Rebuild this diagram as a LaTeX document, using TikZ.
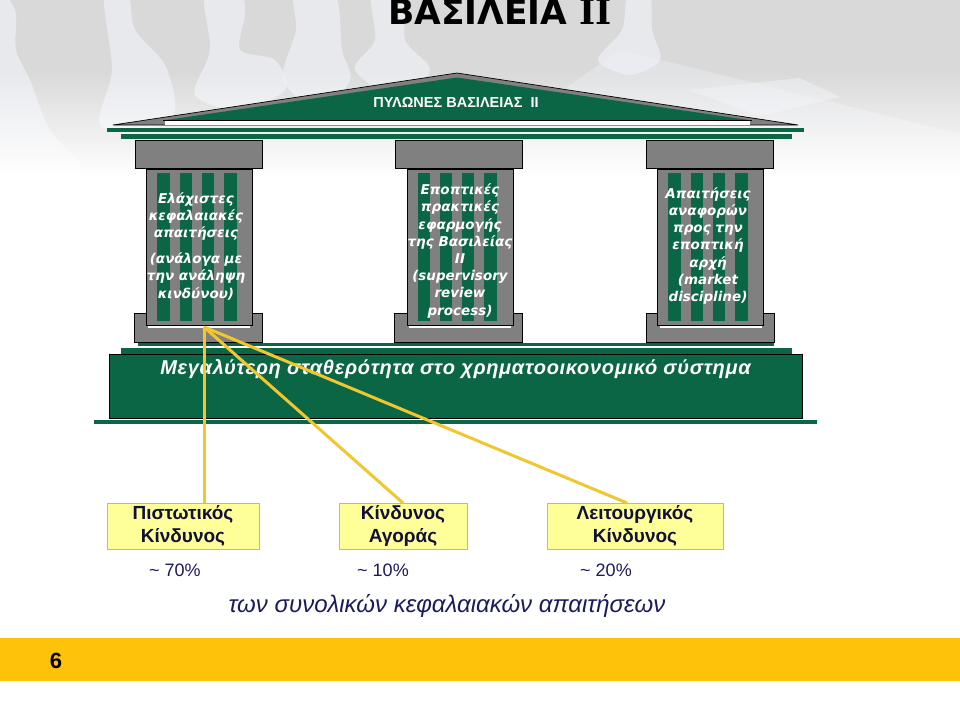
\documentclass[tikz,border=0pt]{standalone}
\usepackage{fontspec}
\usetikzlibrary{fadings}
\setmainfont{Liberation Sans}
\newfontfamily\pillarfont{DejaVu Sans}
\newfontfamily\slabfont{DejaVu Serif}
\definecolor{templegreen}{HTML}{0B6645}
\definecolor{stonegray}{HTML}{808080}
\definecolor{riskyellow}{HTML}{FFFF99}
\definecolor{riskborder}{HTML}{A9BFA9}
\definecolor{linkyellow}{HTML}{F2C62E}
\definecolor{bandyellow}{HTML}{FFC20A}
\definecolor{navytext}{HTML}{1A1A5E}
\definecolor{piececolor}{HTML}{EEF1F6}
\tikzset{
	block/.style={draw=black,line width=0.8pt,fill=stonegray,inner sep=0,outer sep=0},
	capital/.style={block,minimum width=127,minimum height=28},
	shaft/.style={block,minimum width=106,minimum height=156},
	base/.style={block,minimum width=128,minimum height=29},
	flute/.style={fill=templegreen,inner sep=0,outer sep=0,minimum width=12.5,minimum height=148},
	slab/.style={fill=templegreen,inner sep=0,outer sep=0},
	pillartext/.style={text=white,align=center,inner sep=0,font=\pillarfont\bfseries\itshape\fontsize{13.5}{17.2}\selectfont},
	riskbox/.style={draw=riskborder,fill=riskyellow,inner sep=0,outer sep=0,minimum height=46,align=center,text=navytext!60!black,font=\bfseries\fontsize{19}{23}\selectfont},
	share/.style={text=navytext,inner sep=0,font=\fontsize{18}{20}\selectfont},
	link/.style={draw=linkyellow,line width=3pt},
	piece/.style={fill=piececolor,opacity=0.7}
}
\begin{document}
\begin{tikzpicture}[x=1pt,y=-1pt]
	\useasboundingbox (0,0) rectangle (960,720);
	\fill[black!15] (0,0) rectangle (960,260);
	\fill[piece] plot[smooth cycle,tension=0.5] coordinates {(-5,5) (15,10) (16,50) (30,80) (50,130) (90,180) (70,230) (-5,230)};
	\fill[piece] plot[smooth cycle,tension=0.5] coordinates {(104,-5) (128,-5) (135,30) (165,65) (175,110) (150,130) (100,125) (112,70)};
	\fill[piece] plot[smooth cycle,tension=0.5] coordinates {(205,-5) (240,-5) (245,15) (240,50) (275,60) (285,90) (240,110) (195,95) (210,50)};
	\fill[piece] plot[smooth cycle,tension=0.5] coordinates {(295,-5) (335,-5) (342,50) (350,80) (320,110) (283,80) (296,30)};
	\fill[piece] plot[smooth cycle,tension=0.5] coordinates {(372,-5) (405,-5) (405,40) (430,70) (400,100) (355,70) (375,40)};
	\fill[piece] plot[smooth cycle,tension=0.5] coordinates {(628,-5) (650,-5) (652,30) (660,60) (630,75) (598,60) (622,30)};
	\fill[piece,opacity=0.4] (620,50) -- (965,135) -- (965,260) -- (520,260) -- (520,120) -- cycle;
	\fill[piece,opacity=0.5] (688,90) -- (800,78) -- (840,97) -- (760,116) -- cycle;
	\fill[white,path fading=north] (-1,70) rectangle (961,176);
	\fill[white] (-1,175) rectangle (961,262);
	\node[slab,minimum width=960,minimum height=43] (band) at (480,659.5) [fill=bandyellow] {};
	\node[inner sep=0,font=\bfseries\fontsize{22}{24}\selectfont] (page) at (56,661) {6};
	\node[inner sep=0,font=\pillarfont\bfseries\fontsize{34.5}{40}\selectfont] (title) at (500,12) {ΒΑΣΙΛΕΙΑ {\slabfont II}};
	\draw[draw=black,line width=0.7pt,fill=stonegray] (113,125) -- (457,73) -- (798,125) -- cycle;
	\fill[templegreen] (163,120.5) -- (457,77.5) -- (752,120.5) -- cycle;
	\draw[black,line width=0.8pt] (163,120.5) -- (752,120.5);
	\fill[white] (165,121) rectangle (750,124.5);
	\node[inner sep=0,text=white,font=\bfseries\fontsize{14.5}{16}\selectfont] (roof) at (456,102) {ΠΥΛΩΝΕΣ ΒΑΣΙΛΕΙΑΣ\ \ ΙΙ};
	\node[slab,minimum width=697,minimum height=4] (lintel1) at (455.5,129.5) {};
	\node[slab,minimum width=671,minimum height=5] (lintel2) at (456.5,136.5) {};
	\node[capital] (cap1) at (198.5,154) {};
	\node[capital] (cap2) at (458.5,154) {};
	\node[capital] (cap3) at (710,154) {};
	\node[slab,minimum width=636,minimum height=3.5] (step1) at (456,344.5) {};
	\node[base] (base1) at (198.5,327.5) {};
	\node[base] (base2) at (458.5,327.5) {};
	\node[base] (base3) at (710,327.5) {};
	\fill[white] (148,325) rectangle (250,328);
	\fill[white] (409,325) rectangle (511,328);
	\fill[white] (660,325) rectangle (762,328);
	\node[shaft] (shaft1) at (199,247) {};
	\node[shaft] (shaft2) at (460,247) {};
	\node[shaft] (shaft3) at (710.5,247) {};
	\node[flute] (f11) at (163.5,247) {};
	\node[flute] (f12) at (186,247) {};
	\node[flute] (f13) at (208,247) {};
	\node[flute] (f14) at (230.5,247) {};
	\node[flute] (f21) at (424,247) {};
	\node[flute] (f22) at (446,247) {};
	\node[flute] (f23) at (468,247) {};
	\node[flute] (f24) at (490.5,247) {};
	\node[flute] (f31) at (674.5,247) {};
	\node[flute] (f32) at (697,247) {};
	\node[flute] (f33) at (719,247) {};
	\node[flute] (f34) at (741.5,247) {};
	\node[pillartext] (txt1) at (196,246) {Ελάχιστες\\κεφαλαιακές\\απαιτήσεις\\[9pt](ανάλογα με\\την ανάληψη\\κινδύνου)};
	\node[pillartext] (txt2) at (460,251) {Εποπτικές\\πρακτικές\\εφαρμογής\\της Βασιλείας\\ΙΙ\\(supervisory\\review\\process)};
	\node[pillartext] (txt3) at (708,246) {Απαιτήσεις\\αναφορών\\προς την\\εποπτική\\αρχή\\(market\\discipline)};
	\node[slab,minimum width=671,minimum height=6] (step2) at (456.5,351) {};
	\node[slab,draw=black,line width=0.8pt,minimum width=693,minimum height=64] (floor) at (455.5,386) {};
	\node[slab,minimum width=723,minimum height=4] (step3) at (455.5,422) {};
	\node[inner sep=0,text=white,font=\bfseries\itshape\fontsize{20}{22}\selectfont\addfontfeatures{LetterSpace=3.4}] (motto) at (455.5,369) {Μεγαλύτερη σταθερότητα στο χρηματοοικονομικό σύστημα};
	\node[riskbox,minimum width=152] (credit) at (183,526) {Πιστωτικός\\Κίνδυνος};
	\node[riskbox,minimum width=128] (market) at (403,526) {Κίνδυνος\\Αγοράς};
	\node[riskbox,minimum width=176] (oper) at (635,526) {Λειτουργικός\\Κίνδυνος};
	\coordinate (hub) at (204,327);
	\coordinate (operin) at (627,503);
	\draw[link] (hub) -- (hub |- credit.north);
	\draw[link] (hub) -- (market.north);
	\draw[link] (hub) -- (operin);
	\node[share] (s1) at (175,570) {\textasciitilde\ 70\%};
	\node[share] (s2) at (383,570) {\textasciitilde\ 10\%};
	\node[share] (s3) at (606,570) {\textasciitilde\ 20\%};
	\node[inner sep=0,text=navytext,font=\itshape\fontsize{24}{28}\selectfont] (total) at (447,606) {των συνολικών κεφαλαιακών απαιτήσεων};
\end{tikzpicture}
\end{document}
